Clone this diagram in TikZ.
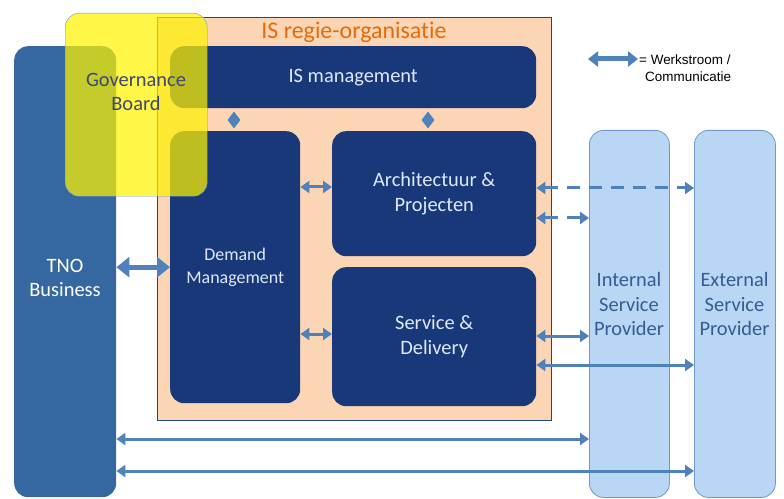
\documentclass[tikz,border=0pt]{standalone}
\usepackage{fontspec}
\setmainfont{Carlito}[Ligatures=NoCommon]
\newfontfamily\legendfont{Liberation Sans}
\usetikzlibrary{arrows.meta,shapes.geometric}
\definecolor{navy}{RGB}{24,56,122}
\definecolor{tnoblue}{RGB}{53,104,160}
\definecolor{peach}{RGB}{252,213,180}
\definecolor{frameblue}{RGB}{31,73,125}
\definecolor{flow}{RGB}{79,129,189}
\definecolor{provfill}{RGB}{186,214,245}
\definecolor{provline}{RGB}{112,152,204}
\definecolor{provtext}{RGB}{52,92,148}
\definecolor{titleorange}{RGB}{228,108,10}
\definecolor{boxtext}{RGB}{222,232,248}
\definecolor{govtext}{RGB}{62,72,112}
\tikzset{
  block/.style={anchor=north west, inner sep=0pt, rounded corners=14bp, align=center},
  navybox/.style={block, fill=navy, text=boxtext},
  provider/.style={block, fill=provfill, draw=provline, line width=0.8bp},
  flowarrow/.style={draw=flow, line width=3bp, {Triangle[width=12bp,length=9bp]}-{Triangle[width=12bp,length=9bp]}},
  bigarrow/.style={draw=flow, line width=5bp, {Triangle[width=20bp,length=13bp]}-{Triangle[width=20bp,length=13bp]}},
  dashflow/.style={flowarrow, dash pattern=on 13bp off 9bp},
  joint/.style={diamond, fill=flow, inner sep=0pt, minimum width=13bp, minimum height=17bp},
  caption/.style={align=center, inner sep=0pt, font=\fontsize{20.5}{24.5}\selectfont},
}
\begin{document}
\begin{tikzpicture}[x=1bp,y=-1bp]
\useasboundingbox (0,0) rectangle (784,499);

% business column
\node[block, fill=tnoblue, minimum width=102bp, minimum height=451bp] (tno) at (14,46) {};
\node[caption, text=white] (tnolabel) at (65,278) {TNO\\Business};

% IS organisation frame
\node[anchor=north west, inner sep=0pt, fill=peach, draw=frameblue, line width=1.2bp, minimum width=394bp, minimum height=403bp] (isorg) at (157,17) {};
\node[text=titleorange, font=\fontsize{24}{28}\selectfont, inner sep=0pt] (title) at (354,32) {IS regie-organisatie};

\node[navybox, minimum width=366bp, minimum height=62bp, font=\fontsize{20.5}{24}\selectfont] (ismgmt) at (170,46) {IS management};
\node[navybox, minimum width=130bp, minimum height=272bp, font=\fontsize{18}{23}\selectfont] (demand) at (170,131) {Demand\\Management};
\node[navybox, minimum width=204bp, minimum height=125bp, font=\fontsize{20.5}{26}\selectfont] (arch) at (332,131) {Architectuur \&\\Projecten};
\node[navybox, minimum width=204bp, minimum height=139bp, font=\fontsize{20.5}{25}\selectfont] (svc) at (332,267) {Service \&\\Delivery};

\node[joint] (j1) at (234,120) {};
\node[joint] (j2) at (428,120) {};

% service providers
\node[provider, minimum width=80bp, minimum height=367bp] (int) at (589,130) {};
\node[caption, text=provtext] (intlabel) at (629,304) {Internal\\Service\\Provider};
\node[provider, minimum width=81bp, minimum height=367bp] (ext) at (694,130) {};
\node[caption, text=provtext] (extlabel) at (734.5,304) {External\\Service\\Provider};

% work flows
\draw[bigarrow] (demand.west -| tno.east) -- (demand.west);
\draw[flowarrow] (demand.east |- 0,187) -- (arch.west |- 0,187);
\draw[flowarrow] (demand.east |- 0,334) -- (svc.west |- 0,334);
\draw[dashflow] (arch.east |- 0,188) -- (ext.west |- 0,188);
\draw[dashflow] (arch.east |- 0,218) -- (int.west |- 0,218);
\draw[flowarrow] (svc.east |- 0,336) -- (int.west |- 0,336);
\draw[flowarrow] (svc.east |- 0,365) -- (ext.west |- 0,365);
\draw[flowarrow] (tno.east |- 0,439) -- (int.west |- 0,439);
\draw[flowarrow] (tno.east |- 0,471) -- (ext.west |- 0,471);

% legend
\coordinate (legA) at (588,59);
\coordinate (legB) at (638,59);
\draw[draw=flow, line width=5bp, {Triangle[width=15bp,length=10bp]}-{Triangle[width=15bp,length=10bp]}] (legA) -- (legB);
\node[anchor=west, inner sep=0pt, align=left, font=\legendfont\fontsize{13.5}{17}\selectfont] (legtext) at (639,68) {= Werkstroom /\\\hspace*{6bp}Communicatie};

% governance board on top
\node[block, fill=yellow, fill opacity=0.72, draw=provline, draw opacity=1, minimum width=142bp, minimum height=183bp] (gov) at (65,13) {};
\node[caption, text=govtext] (govlabel) at (136,92) {Governance\\Board};
\end{tikzpicture}
\end{document}
